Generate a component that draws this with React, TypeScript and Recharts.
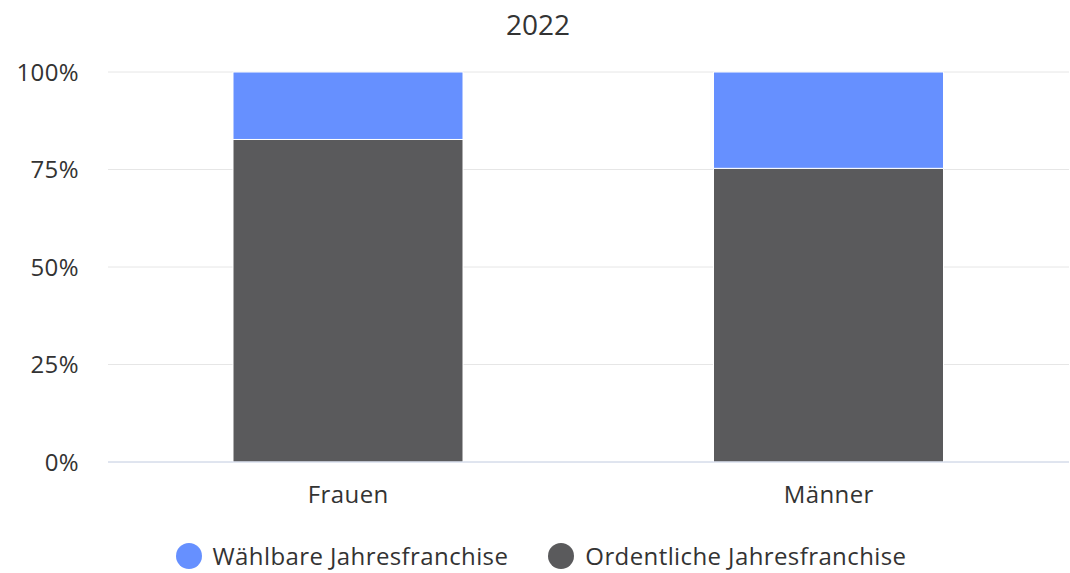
import { Bar, BarChart, CartesianGrid, XAxis, YAxis } from 'recharts'

const categories = ['Frauen', 'Männer']
const ordentlicheValues = [82.7, 75.3]
const waehlbareValues = [17.3, 24.7]
const yTicks = [0, 25, 50, 75, 100]

const SERIES = [
  { key: 'waehlbare', name: 'Wählbare Jahresfranchise', color: '#6690ff' },
  { key: 'ordentliche', name: 'Ordentliche Jahresfranchise', color: '#5a5a5c' },
]

const FONT = '"Open Sans", sans-serif'
const TEXT = '#333333'

const data = categories.map((name, i) => ({
  name,
  ordentliche: ordentlicheValues[i],
  waehlbare: waehlbareValues[i],
}))

const tickStyle = { fill: TEXT, fontSize: 24, fontFamily: FONT, letterSpacing: 0.4 }

export default function App() {
  return (
    <div
      style={{
        position: 'absolute',
        left: 0,
        top: 0,
        width: 1070,
        height: 573,
        overflow: 'hidden',
        background: '#fff',
        fontFamily: FONT,
        color: TEXT,
      }}
    >
      <div
        style={{
          position: 'absolute',
          top: 4,
          left: 0,
          width: 1076,
          textAlign: 'center',
          fontSize: 28,
          lineHeight: '40px',
        }}
      >
        2022
      </div>
      <BarChart
        width={1070}
        height={573}
        data={data}
        margin={{ top: 72, right: 1, bottom: 81, left: 0 }}
      >
        <CartesianGrid vertical={false} stroke="#e6e6e6" />
        <XAxis
          dataKey="name"
          height={30}
          tickLine={false}
          tickSize={0}
          tickMargin={24}
          axisLine={{ stroke: '#ccd6eb' }}
          tick={tickStyle}
        />
        <YAxis
          width={108}
          domain={[0, 100]}
          ticks={yTicks}
          interval={0}
          tickFormatter={(v) => `${v}%`}
          axisLine={false}
          tickLine={false}
          tickSize={0}
          tickMargin={29}
          tick={tickStyle}
        />
        <Bar
          dataKey="ordentliche"
          name="Ordentliche Jahresfranchise"
          stackId="a"
          fill="#5a5a5c"
          stroke="#ffffff"
          strokeWidth={1}
          barSize={230}
          isAnimationActive={false}
        />
        <Bar
          dataKey="waehlbare"
          name="Wählbare Jahresfranchise"
          stackId="a"
          fill="#6690ff"
          stroke="#ffffff"
          strokeWidth={1}
          barSize={230}
          isAnimationActive={false}
        />
      </BarChart>
      <div
        style={{
          position: 'absolute',
          top: 543,
          left: 0,
          width: 1082,
          display: 'flex',
          justifyContent: 'center',
          gap: 40,
          fontSize: 24,
          letterSpacing: 0.4,
          lineHeight: '26px',
        }}
      >
        {SERIES.map((s) => (
          <div key={s.key} style={{ display: 'flex', alignItems: 'center' }}>
            <span
              style={{
                display: 'inline-block',
                width: 26,
                height: 26,
                borderRadius: '50%',
                background: s.color,
                marginRight: 11,
              }}
            />
            <span>{s.name}</span>
          </div>
        ))}
      </div>
    </div>
  )
}
